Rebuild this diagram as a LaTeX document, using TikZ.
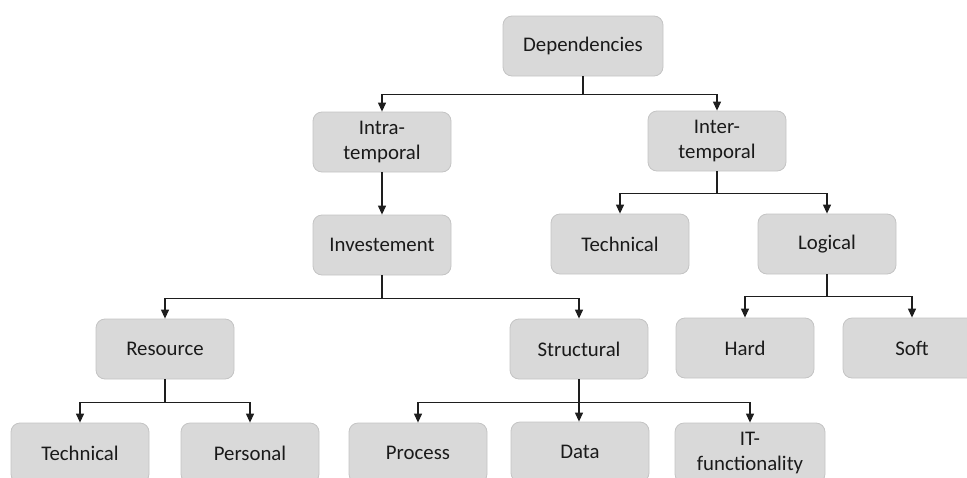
\documentclass[tikz,border=0pt]{standalone}
\usepackage{fontspec}
\setmainfont{Carlito}
\usetikzlibrary{arrows.meta}
\definecolor{boxfill}{HTML}{D9D9D9}
\definecolor{boxline}{HTML}{C4C4C4}
\definecolor{linecol}{HTML}{1E1E1E}
\definecolor{txtcol}{HTML}{1A1A1A}
\begin{document}
\begin{tikzpicture}[x=1pt,y=-1pt,
  box/.style={draw=boxline, line width=0.8pt, fill=boxfill, rounded corners=9pt,
    minimum width=138pt, minimum height=60pt, inner sep=2pt, align=center,
    text=txtcol, font=\fontsize{20.8}{25.5}\selectfont},
  arr/.style={draw=linecol, line width=1.2pt, -{Triangle[width=8pt,length=9pt]}},
  ln/.style={draw=linecol, line width=1.2pt}]
\useasboundingbox (0,0) rectangle (967,477);
\clip (0,0) rectangle (967,477);
\node[box, minimum width=160pt] (dep) at (583,46) {Dependencies};
\node[box] (intra) at (382,142) {Intra-\\temporal};
\node[box] (inter) at (717,141) {Inter-\\temporal};
\node[box] (inv) at (382,245) {Investement};
\node[box] (tech2) at (620,244) {Technical};
\node[box] (logical) at (827,244) {Logical};
\node[box] (resource) at (165,349) {Resource};
\node[box] (structural) at (579,349) {Structural};
\node[box] (hard) at (745,348) {Hard};
\node[box] (soft) at (912,348) {Soft};
\node[box] (tech1) at (80,453) {Technical};
\node[box] (personal) at (250,453) {Personal};
\node[box] (process) at (418,453) {Process};
\node[box] (data) at (580,452) {Data};
\node[box, minimum width=150pt] (it) at (750,453) {IT-\\functionality};

\coordinate (b1) at ([yshift=-18pt]dep.south);
\draw[ln] (dep.south) -- (b1);
\draw[arr] (b1) -| (intra.north);
\draw[arr] (b1) -| (inter.north);

\draw[arr] (intra.south) -- (inv.north);

\coordinate (b2) at ([yshift=-22pt]inter.south);
\draw[ln] (inter.south) -- (b2);
\draw[arr] (b2) -| (tech2.north);
\draw[arr] (b2) -| (logical.north);

\coordinate (b3) at ([yshift=-23pt]inv.south);
\draw[ln] (inv.south) -- (b3);
\draw[arr] (b3) -| (resource.north);
\draw[arr] (b3) -| (structural.north);

\coordinate (b4) at ([yshift=-22pt]logical.south);
\draw[ln] (logical.south) -- (b4);
\draw[arr] (b4) -| (hard.north);
\draw[arr] (b4) -| (soft.north);

\coordinate (b5) at ([yshift=-23pt]resource.south);
\draw[ln] (resource.south) -- (b5);
\draw[arr] (b5) -| (tech1.north);
\draw[arr] (b5) -| (personal.north);

\coordinate (b6) at ([yshift=-23pt]structural.south);
\draw[ln] (structural.south) -- (b6);
\draw[arr] (b6) -| (process.north);
\draw[arr] (structural.south) -- (structural.south |- data.north);
\draw[arr] (b6) -| (it.north);
\end{tikzpicture}
\end{document}
